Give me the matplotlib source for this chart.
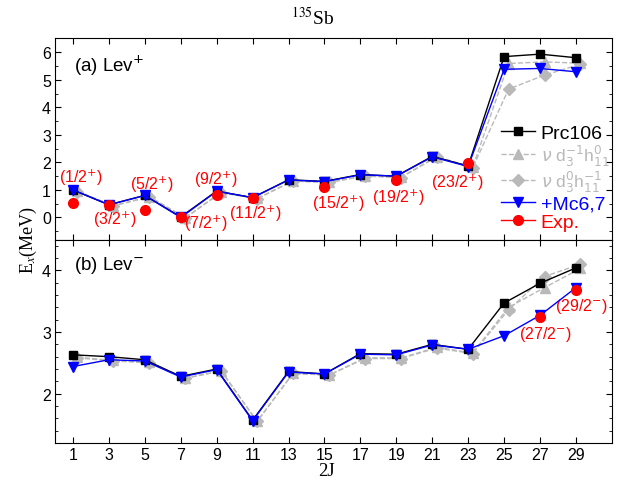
import matplotlib.pyplot as plt
from matplotlib.ticker import MultipleLocator
import numpy as np

# ---------------- data ----------------
two_j = [1, 3, 5, 7, 9, 11, 13, 15, 17, 19, 21, 23, 25, 27, 29]

# (a) positive parity levels
prc_pos = [1.00, 0.46, 0.80, 0.02, 0.96, 0.72, 1.37, 1.31, 1.56, 1.50, 2.22, 1.87, 5.84, 5.93, 5.80]
d3m1_pos = [0.95, 0.43, 0.76, -0.01, 0.92, 0.69, 1.33, 1.28, 1.52, 1.46, 2.21, 1.82, 5.59, 5.65, 5.60]
d3p0_pos = [0.93, 0.42, 0.75, -0.02, 0.90, 0.68, 1.32, 1.27, 1.50, 1.45, 2.20, 1.80, 4.66, 5.17, 5.56]
mc67_pos = [1.00, 0.46, 0.80, 0.00, 0.95, 0.72, 1.36, 1.30, 1.55, 1.50, 2.20, 1.85, 5.38, 5.41, 5.29]
exp_pos_j = [1, 3, 5, 7, 9, 11, 15, 19, 23]
exp_pos = [0.53, 0.45, 0.28, 0.00, 0.80, 0.72, 1.12, 1.37, 1.97]
exp_pos_lab = ['(1/2$^{+}$)', '(3/2$^{+}$)', '(5/2$^{+}$)', '(7/2$^{+}$)', '(9/2$^{+}$)',
               '(11/2$^{+}$)', '(15/2$^{+}$)', '(19/2$^{+}$)', '(23/2$^{+}$)']

# (b) negative parity levels
prc_neg = [2.63, 2.60, 2.55, 2.28, 2.40, 1.57, 2.36, 2.32, 2.65, 2.64, 2.80, 2.72, 3.47, 3.79, 4.04]
d3m1_neg = [2.59, 2.54, 2.51, 2.25, 2.37, 1.55, 2.33, 2.30, 2.58, 2.58, 2.75, 2.66, 3.40, 3.72, 4.03]
d3p0_neg = [2.58, 2.53, 2.50, 2.25, 2.37, 1.55, 2.33, 2.30, 2.57, 2.57, 2.74, 2.65, 3.36, 3.90, 4.10]
mc67_neg = [2.44, 2.55, 2.53, 2.27, 2.39, 1.56, 2.35, 2.32, 2.64, 2.63, 2.79, 2.72, 2.94, 3.27, 3.72]
exp_neg_j = [27, 29]
exp_neg = [3.24, 3.68]
exp_neg_lab = ['(27/2$^{-}$)', '(29/2$^{-}$)']

# label positions for the red spin labels (2J, E)
pos_lab_xy = [(1.43, 1.46), (3.33, -0.05), (5.42, 1.22), (8.41, -0.18), (8.96, 1.40),
              (11.18, 0.16), (15.8, 0.53), (19.13, 0.74), (22.4, 1.28)]
neg_lab_xy = [(27.3, 2.97), (29.3, 3.43)]

gray = '#b9b9b9'
shift = 0.25  # gray series drawn a little to the right

plt.rcParams['font.family'] = ['Liberation Sans', 'DejaVu Sans']

fig = plt.figure(figsize=(6.25, 4.81), dpi=100)
ax1 = fig.add_axes([0.088, 0.5, 0.891, 0.418])
ax2 = fig.add_axes([0.088, 0.0769, 0.891, 0.4231])

x = np.array(two_j)


def draw(ax, prc, d3m1, d3p0, mc, ej, ev):
    ax.plot(x, prc, '-s', color='k', lw=1, ms=6, label='Prc106', zorder=3)
    ax.plot(x + shift, d3m1, '--^', color=gray, lw=1, ms=7,
            label=r'$\nu$ d$_3^{-1}$h$_{11}^{0}$', zorder=2)
    ax.plot(x + shift, d3p0, '--D', color=gray, lw=1, ms=6,
            label=r'$\nu$ d$_3^{0}$h$_{11}^{-1}$', zorder=2)
    ax.plot(x, mc, '-v', color='#0000ff', lw=1, ms=7, label='+Mc6,7', zorder=4)
    ax.plot(ej, ev, 'o', color='#ff0000', ms=7, label='Exp.', zorder=5)


draw(ax1, prc_pos, d3m1_pos, d3p0_pos, mc67_pos, exp_pos_j, exp_pos)
draw(ax2, prc_neg, d3m1_neg, d3p0_neg, mc67_neg, exp_neg_j, exp_neg)

for (tx, ty), s in zip(pos_lab_xy, exp_pos_lab):
    ax1.text(tx, ty, s, color='#ff0000', fontsize=11.5, ha='center', va='center')
for (tx, ty), s in zip(neg_lab_xy, exp_neg_lab):
    ax2.text(tx, ty, s, color='#ff0000', fontsize=11.5, ha='center', va='center')

ax1.text(0.035, 0.93, '(a) Lev$^{+}$', transform=ax1.transAxes, fontsize=13.5, va='top')
ax2.text(0.035, 0.93, '(b) Lev$^{-}$', transform=ax2.transAxes, fontsize=13.5, va='top')

# legend with a red line for Exp.
h, l = ax1.get_legend_handles_labels()
h[4] = plt.Line2D([], [], color='#ff0000', marker='o', ms=7, lw=1)
leg = ax1.legend(h, l, loc='upper left', bbox_to_anchor=(0.8016, 0.74),
                 bbox_transform=fig.transFigure, frameon=False, borderpad=0, borderaxespad=0,
                 fontsize=14, handlelength=1.75, labelspacing=0.05, handletextpad=0.3)
for t, c in zip(leg.get_texts(), ['k', gray, gray, '#0000ff', '#ff0000']):
    t.set_color(c)
leg.get_texts()[1].set_fontsize(12.5)
leg.get_texts()[2].set_fontsize(12.5)

ax1.set_ylim(-0.8, 6.5)
ax1.yaxis.set_major_locator(MultipleLocator(1))
ax1.yaxis.set_minor_locator(MultipleLocator(0.5))
ax2.set_ylim(1.2, 4.5)
ax2.yaxis.set_major_locator(MultipleLocator(1))
ax2.yaxis.set_minor_locator(MultipleLocator(0.2))

for ax in (ax1, ax2):
    ax.set_xlim(0, 31)
    ax.set_xticks(two_j)
    ax.tick_params(which='both', direction='in', top=True, right=True, labelsize=11.5)
    ax.tick_params(which='major', length=4, pad=3)
    ax.tick_params(which='minor', length=2)
ax1.tick_params(labelbottom=False)

fig.text(0.5, 0.962, '$^{135}$Sb', ha='center', va='center', fontsize=14, family='Liberation Serif',
         math_fontfamily='stix')
fig.text(0.045, 0.5, 'E$_x$(MeV)', rotation=90, ha='center', va='center', fontsize=13,
         family='Liberation Serif', math_fontfamily='stix')
fig.text(0.523, 0.019, '2J', ha='center', va='center', fontsize=13.5, family='Liberation Serif')

fig.savefig('out.png', dpi=100)
